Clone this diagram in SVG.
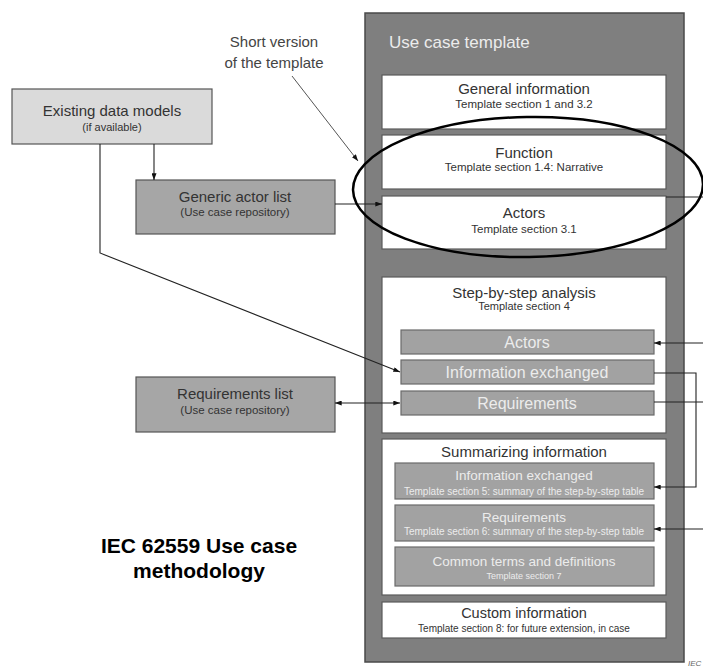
<svg xmlns="http://www.w3.org/2000/svg" width="703" height="668" viewBox="0 0 703 668">
<style>
text{font-family:"Liberation Sans",Arial,sans-serif;text-anchor:middle}
.dk{fill:#333}
.wt{fill:#ececec}
.wb{fill:#fff;stroke:#5a5a5a;stroke-width:1.2}
.gb{fill:#a2a2a2;stroke:#6a6a6a;stroke-width:1.2}
.lb{fill:#dadada;stroke:#555;stroke-width:1.2}
.mb{fill:#a6a6a6;stroke:#555;stroke-width:1.2}
.ln{fill:none;stroke:#222;stroke-width:1.1}
.ann{fill:none;stroke:#555;stroke-width:1}
</style>
<defs>
<marker id="ah" viewBox="0 0 8 6" refX="8" refY="3" markerWidth="7" markerHeight="5" orient="auto-start-reverse" markerUnits="userSpaceOnUse">
<path d="M0,0 L8,3 L0,6 Z" fill="#111"/>
</marker>
</defs>
<rect width="703" height="668" fill="#fff"/>

<g id="panel">
<rect x="365" y="13" width="319" height="649" fill="#7f7f7f" stroke="#4a4a4a" stroke-width="1.5"/>
<text x="389" y="48" class="wt" font-size="17" style="text-anchor:start">Use case template</text>
</g>

<g id="general">
<rect x="382" y="75" width="284" height="54" class="wb"/>
<text x="524" y="94" class="dk" font-size="15">General information</text>
<text x="524" y="108" class="dk" font-size="11.5">Template section 1 and 3.2</text>
</g>

<g id="function">
<rect x="382" y="135" width="284" height="54" class="wb"/>
<text x="524" y="158" class="dk" font-size="15">Function</text>
<text x="524" y="171" class="dk" font-size="11.5">Template section 1.4: Narrative</text>
</g>

<g id="actors">
<rect x="382" y="196" width="284" height="53" class="wb"/>
<text x="524" y="218" class="dk" font-size="15">Actors</text>
<text x="524" y="233" class="dk" font-size="11.5">Template section 3.1</text>
</g>

<g id="step">
<rect x="382" y="277" width="284" height="156" class="wb"/>
<text x="524" y="298" class="dk" font-size="15">Step-by-step analysis</text>
<text x="524" y="310" class="dk" font-size="11">Template section 4</text>
</g>
<g id="step-actors">
<rect x="401" y="330" width="253" height="24" class="gb"/>
<text x="527" y="348" class="wt" font-size="16">Actors</text>
</g>
<g id="step-info">
<rect x="401" y="360" width="253" height="24" class="gb"/>
<text x="527" y="378" class="wt" font-size="16">Information exchanged</text>
</g>
<g id="step-req">
<rect x="401" y="391" width="253" height="24" class="gb"/>
<text x="527" y="409" class="wt" font-size="16">Requirements</text>
</g>

<g id="summary">
<rect x="382" y="439" width="284" height="156" class="wb"/>
<text x="524" y="457" class="dk" font-size="15">Summarizing information</text>
</g>
<g id="sum-info">
<rect x="395" y="463" width="259" height="36" class="gb"/>
<text x="524" y="480" class="wt" font-size="13.5">Information exchanged</text>
<text x="524" y="495" class="wt" font-size="10">Template section 5: summary of the step-by-step table</text>
</g>
<g id="sum-req">
<rect x="395" y="505" width="259" height="36" class="gb"/>
<text x="524" y="522" class="wt" font-size="13.5">Requirements</text>
<text x="524" y="535" class="wt" font-size="10">Template section 6: summary of the step-by-step table</text>
</g>
<g id="sum-terms">
<rect x="395" y="547" width="259" height="39" class="gb"/>
<text x="524" y="566" class="wt" font-size="13.5">Common terms and definitions</text>
<text x="524" y="579" class="wt" font-size="9">Template section 7</text>
</g>

<g id="custom">
<rect x="382" y="602" width="284" height="36" class="wb"/>
<text x="524" y="618" class="dk" font-size="14.5">Custom information</text>
<text x="524" y="632" class="dk" font-size="10">Template section 8: for future extension, in case</text>
</g>

<g id="existing">
<rect x="12" y="89" width="200" height="55" class="lb"/>
<text x="112" y="116" class="dk" font-size="15">Existing data models</text>
<text x="112" y="131" class="dk" font-size="11">(if available)</text>
</g>

<g id="generic">
<rect x="136" y="180" width="199" height="54" class="mb"/>
<text x="235" y="202" class="dk" font-size="15">Generic actor list</text>
<text x="235" y="216" class="dk" font-size="11.5">(Use case repository)</text>
</g>

<g id="reqlist">
<rect x="136" y="377" width="199" height="55" class="mb"/>
<text x="235" y="399" class="dk" font-size="15">Requirements list</text>
<text x="235" y="414" class="dk" font-size="11.5">(Use case repository)</text>
</g>

<g id="note">
<text x="274" y="47" fill="#444" font-size="15">Short version</text>
<text x="274" y="68" fill="#444" font-size="15">of the template</text>
</g>

<g id="title">
<text x="199" y="553" fill="#000" font-size="21" font-weight="bold">IEC 62559 Use case</text>
<text x="199" y="578" fill="#000" font-size="21" font-weight="bold">methodology</text>
</g>

<g id="connectors">
<line x1="154" y1="144" x2="154" y2="180" class="ln" marker-end="url(#ah)"/>
<polyline points="100,144 100,253 400,372" class="ln" stroke="#444" marker-end="url(#ah)"/>
<line x1="335" y1="204" x2="382" y2="204" class="ln" marker-end="url(#ah)"/>
<line x1="292" y1="76" x2="358" y2="161" class="ann" marker-end="url(#ah)"/>
<line x1="335" y1="403" x2="400" y2="403" class="ln" marker-start="url(#ah)" marker-end="url(#ah)"/>
<line x1="703" y1="343" x2="654" y2="343" class="ln" marker-end="url(#ah)"/>
<polyline points="654,373 696,373 696,487 654,487" class="ln" marker-end="url(#ah)"/>
<line x1="654" y1="402" x2="703" y2="402" class="ln"/>
<line x1="703" y1="529" x2="654" y2="529" class="ln" marker-end="url(#ah)"/>
<line x1="666" y1="197" x2="703" y2="197" class="ln"/>
</g>

<g id="highlight">
<ellipse cx="528" cy="187" rx="175" ry="70" fill="none" stroke="#000" stroke-width="2.5" transform="rotate(-1 528 187)"/>
</g>

<text x="688" y="666" fill="#666" font-size="8" font-style="italic" style="text-anchor:start">IEC</text>
</svg>
